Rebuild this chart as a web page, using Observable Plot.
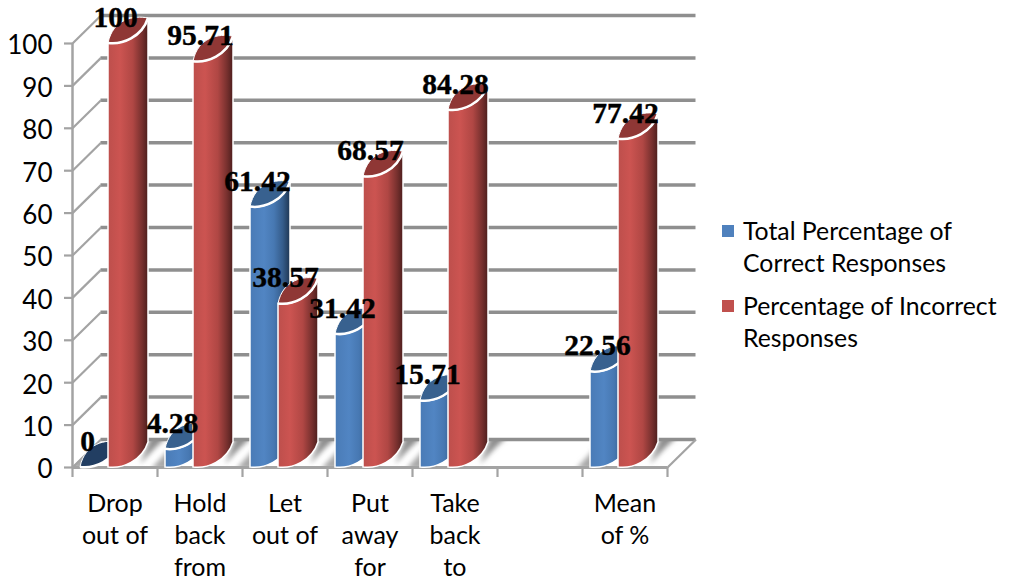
<!DOCTYPE html>
<html><head><meta charset="utf-8">
<script src="https://cdn.jsdelivr.net/npm/d3@7"></script>
<script src="https://cdn.jsdelivr.net/npm/@observablehq/plot@0.6"></script>
<style>
html,body{margin:0;padding:0;background:#fff;width:1009px;height:583px;overflow:hidden}
#wrap{position:relative;width:1009px;height:583px}
svg{display:block;position:absolute;left:0;top:0;overflow:visible}
.lg{position:absolute;left:743px;font:24.8px/32.3px Lato,sans-serif;color:#000;white-space:pre-line}
.sw{position:absolute;left:722px;width:12px;height:12px}
</style></head><body><div id="wrap"></div>
<script>
const categories = ["Drop\nout of","Hold\nback\nfrom","Let\nout of","Put\naway\nfor","Take\nback\nto","","Mean\nof %"];
const correct   = [0, 4.28, 61.42, 31.42, 15.71, null, 22.56];
const incorrect = [100, 95.71, 38.57, 68.57, 84.28, null, 77.42];
const correctText   = ["0","4.28","61.42","31.42","15.71",null,"22.56"];
const incorrectText = ["100","95.71","38.57","68.57","84.28",null,"77.42"];
const seriesNames = ["Total Percentage of\nCorrect Responses","Percentage of Incorrect\nResponses"];
const seriesColors = ["#4f81bd","#c0504d"];
const yTicks = d3.range(0,101,10);

const W = 1009, H = 583;
const mL = 72, mR = W-667, mT = 43, mB = H-467;
const band = (667-72)/7;
const depthX = 28.5/band, depthY = 28/4.24;  // wall depth in data units
const off = {blue: 8/band, red: 36/band}, cw = 40/band;
const idx = categories.map((_, i) => i);
const has = i => correct[i] != null;

const defs = () => {
  const s = d3.create("svg:g");
  const d = s.append("defs");
  const grad = (id, stops) => {
    const g = d.append("linearGradient").attr("id", id);
    stops.forEach(([o,c]) => g.append("stop").attr("offset", o).attr("stop-color", c));
  };
  grad("cylR", [[0,"#bd4f4c"],[.3,"#cc5451"],[.62,"#b04744"],[.85,"#77302e"],[1,"#4c1e1d"]]);
  grad("cylB", [[0,"#4a7bb6"],[.35,"#5185c3"],[.6,"#4778b2"],[.82,"#355c8a"],[1,"#1f3652"]]);
  d.append("filter").attr("id","blur").attr("x","-50%").attr("y","-50%").attr("width","200%").attr("height","200%")
    .append("feGaussianBlur").attr("stdDeviation", 2.5);
  return s.node();
};

// floor parallelogram and the soft shadows lying on it, placed through the scales
const floor = (index, {x, y}) => {
  const g = d3.create("svg:g");
  const p0 = [x(0),y(0)], p1 = [x(depthX),y(depthY)], p2 = [x(7+depthX),y(depthY)], p3 = [x(7),y(0)];
  const poly = "M"+[p0,p1,p2,p3].join("L")+"Z";
  g.append("clipPath").attr("id","floorClip").append("path").attr("d", poly);
  g.append("path").attr("d", poly).attr("fill", "#fff");
  const sh = g.append("g").attr("clip-path","url(#floorClip)");
  const y0 = y(0), yb = y(depthY);
  idx.filter(has).forEach(i => {
    const r = x(i+off.red+cw), l = x(i+off.blue);
    sh.append("path").attr("filter","url(#blur)").attr("fill","#8f8f8f")
      .attr("d",`M${r-8},${y0-3}L${r-1},${yb+8}L${r+3},${yb-4}L${r+21},${yb-4}L${r+6},${yb+10}Z`);
    sh.append("path").attr("filter","url(#blur)").attr("fill","#a8a8a8")
      .attr("d",`M${l-14},${y0+2}L${l+6},${y0+2}L${l+6},${yb+8}Z`);
  });
  return g.node();
};

// turns each rect of rectY into a tilted cylinder, from the position scales
const cylinder = (fillId, topFill) => (index, {x, y}, values) => {
  const g = d3.create("svg:g");
  const y0 = y(0);
  for (const i of index) {
    const L = values.x1[i], Wd = values.x2[i]-values.x1[i], t = values.y2[i];
    const R = L+Wd;
    const front = (a) => `C${L+.35*Wd},${a+2} ${L+.85*Wd},${a-6} ${R},${a-25}`;
    const back  = (a) => `C${L+.65*Wd},${a-28} ${L+.12*Wd},${a-24} ${L},${a}`;
    const frontRev = (a) => `C${L+.85*Wd},${a-6} ${L+.35*Wd},${a+2} ${L},${a}`;
    if (t < y0 - 1) {
      g.append("path").attr("fill",`url(#${fillId})`).attr("stroke","#fff").attr("stroke-width",1.5)
        .attr("d",`M${L},${t}${front(t)}L${R},${y0-25}${frontRev(y0)}Z`);
    }
    g.append("path").attr("fill", t < y0-1 ? topFill : "#223e62").attr("stroke","#fff").attr("stroke-width",1)
      .attr("d",`M${L},${t}${front(t)}${back(t)}Z`);
    g.append("path").attr("fill","none").attr("stroke","#fff").attr("stroke-width",2.5)
      .attr("d",`M${L},${t}${front(t)}`);
  }
  return g.node();
};

const labelStyle = {fontFamily:"'Liberation Serif',serif", fontWeight:"bold", fontSize:29.5, fill:"#000", stroke:"#000", strokeWidth:0.4};

const chart = Plot.plot({
  width: W, height: H,
  marginLeft: mL, marginRight: mR, marginTop: mT, marginBottom: mB,
  x: {type:"linear", domain:[0,7], range:[mL,667]},
  y: {type:"linear", domain:[0,100], range:[467,mT]},
  style: {fontFamily:"Lato,sans-serif", fontSize:"25px", color:"#000", background:"#fff", overflow:"visible"},
  marks: [
    defs,
    floor,
    Plot.ruleY(yTicks, {x1:depthX, x2:7+depthX, y:d=>d+depthY, stroke:"#8f8f8f", strokeWidth:3.5}),
    Plot.link(yTicks, {x1:0, y1:d=>d, x2:depthX, y2:d=>d+depthY, stroke:"#a3a3a3", strokeWidth:2.2}),
    Plot.link([0], {x1:7, y1:0, x2:7+depthX, y2:depthY, stroke:"#a3a3a3", strokeWidth:2.2}),
    Plot.ruleX([0], {y1:0, y2:100, stroke:"#a3a3a3", strokeWidth:2.5}),
    Plot.ruleY([0], {x1:0, x2:7, stroke:"#a3a3a3", strokeWidth:3}),
    Plot.axisY({ticks:yTicks, tickSize:8, label:null, stroke:"#a3a3a3", strokeWidth:2.2, tickFormat:()=>""}),
    Plot.text(yTicks, {x:0, y:d=>d, text:d=>String(d), dx:-20, dy:2.5, textAnchor:"end", fontSize:26, fill:"#000", fontFamily:"Lato,sans-serif"}),
    Plot.axisX({ticks:d3.range(0,8), tickSize:10, tickFormat:()=>"", label:null, stroke:"#a3a3a3", strokeWidth:2.2}),
    Plot.rectY(idx.filter(has), {x1:i=>i+off.blue, x2:i=>i+off.blue+cw, y1:0, y2:i=>correct[i], render:cylinder("cylB","#38618f")}),
    Plot.rectY(idx.filter(has), {x1:i=>i+off.red, x2:i=>i+off.red+cw, y1:0, y2:i=>incorrect[i], render:cylinder("cylR","#8f3735")}),
    Plot.text(idx.filter(has), {x:i=>i+15/band, y:i=>correct[i], text:i=>correctText[i], dy:-26, ...labelStyle}),
    Plot.text(idx.filter(has), {x:i=>i+43/band, y:i=>incorrect[i], text:i=>incorrectText[i], dy:-26, ...labelStyle}),
    Plot.text(idx, {x:i=>i+.5, y:0, text:i=>categories[i], lineAnchor:"top", dy:22, lineHeight:1.28, fontSize:25, fill:"#000", fontFamily:"Lato,sans-serif"})
  ]
});
const wrap = document.getElementById("wrap");
wrap.append(chart);
const tops = [215, 290], swTops = [225, 300];
seriesNames.forEach((n,i) => {
  const t = document.createElement("div"); t.className="lg"; t.style.top=tops[i]+"px"; t.textContent=n; wrap.append(t);
  const s = document.createElement("div"); s.className="sw"; s.style.top=swTops[i]+"px"; s.style.background=seriesColors[i]; wrap.append(s);
});
</script></body></html>
